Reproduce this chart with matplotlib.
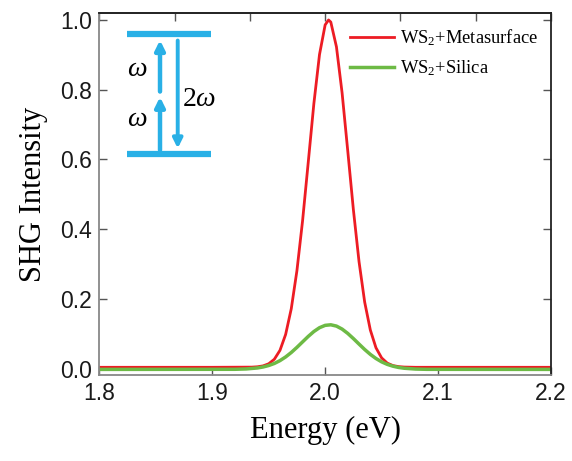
import numpy as np
import matplotlib
matplotlib.use("Agg")
import matplotlib.pyplot as plt

plt.rcParams['mathtext.fontset'] = 'custom'
plt.rcParams['mathtext.rm'] = 'Liberation Serif'
plt.rcParams['mathtext.it'] = 'Liberation Serif:italic'

# values
energy_red = [1.80, 1.90, 1.935, 1.94, 1.945, 1.95, 1.955, 1.96, 1.965, 1.97, 1.975,
              1.98, 1.985, 1.99, 1.995, 2.0, 2.003, 2.005, 2.01, 2.015, 2.02, 2.025,
              2.03, 2.035, 2.04, 2.045, 2.05, 2.055, 2.06, 2.065, 2.07, 2.08, 2.20]
shg_metasurface = [0.004, 0.004, 0.0045, 0.0055, 0.0081, 0.0141, 0.0271, 0.0527, 0.0982,
                   0.172, 0.281, 0.424, 0.591, 0.760, 0.901, 0.986, 1.0, 0.994, 0.923,
                   0.791, 0.625, 0.456, 0.307, 0.191, 0.111, 0.060, 0.031, 0.016, 0.009,
                   0.006, 0.0047, 0.004, 0.004]

energy_green = [1.80, 1.92, 1.93, 1.94, 1.945, 1.95, 1.955, 1.96, 1.965, 1.97, 1.975,
                1.98, 1.985, 1.99, 1.995, 2.0, 2.005, 2.01, 2.015, 2.02, 2.025, 2.03,
                2.035, 2.04, 2.045, 2.05, 2.055, 2.06, 2.065, 2.07, 2.08, 2.09, 2.20]
shg_silica = [-0.002, -0.0017, -0.0007, 0.0021, 0.0049, 0.0091, 0.0150, 0.0232, 0.0337,
              0.0465, 0.0612, 0.0769, 0.0925, 0.1066, 0.1176, 0.1243, 0.1259, 0.1222,
              0.1136, 0.1012, 0.0864, 0.0706, 0.0551, 0.0411, 0.0292, 0.0196, 0.0124,
              0.0072, 0.0036, 0.0013, -0.001, -0.0018, -0.002]

x_ticks = [1.8, 1.9, 2.0, 2.1, 2.2]
y_ticks = [0.0, 0.2, 0.4, 0.6, 0.8, 1.0]

red = '#ED1C24'
green = '#6DBA45'
blue = '#29B0E6'

fig = plt.figure(figsize=(5.72, 4.61), dpi=100)
ax = fig.add_axes([0.1736, 0.1866, 0.7897, 0.7852])

ax.plot(energy_red, shg_metasurface, color=red, lw=2.0, label='WS$_2$+Metasurface')
ax.plot(energy_green, shg_silica, color=green, lw=2.5, label='WS$_2$+Silica')

ax.set_xlim(1.8, 2.2)
ax.set_ylim(-0.018, 1.02)
ax.set_xticks(x_ticks)
ax.set_yticks(y_ticks)
ax.set_xticklabels([f'{t:.1f}' for t in x_ticks], family='Liberation Sans', fontsize=16.5, color='#1a1a1a')
ax.set_yticklabels([f'{t:.1f}' for t in y_ticks], family='Liberation Sans', fontsize=16.5, color='#1a1a1a')
ax.tick_params(direction='in', length=6, width=1.0, color='#555555', right=True, pad=5)

top = ax.secondary_xaxis('top')
top.set_xticks(np.linspace(1.8, 2.2, 7))
top.tick_params(direction='in', length=6, width=1.0, color='#555555', labeltop=False)

for side in ['left', 'bottom']:
    ax.spines[side].set_color('#888888')
    ax.spines[side].set_linewidth(1.3)
for side in ['top', 'right']:
    ax.spines[side].set_color('#222222')
    ax.spines[side].set_linewidth(1.3)
top.spines['top'].set_color('#444444')
top.spines['top'].set_linewidth(1.3)

ax.set_xlabel('Energy (eV)', family='Liberation Serif', fontsize=22, labelpad=8)
ax.set_ylabel('SHG Intensity', family='Liberation Serif', fontsize=22, labelpad=9)

leg = ax.legend(loc='upper left', bbox_to_anchor=(0.555, 0.96), frameon=False,
                prop={'family': 'Liberation Serif', 'size': 13.3},
                handlelength=2.4, handletextpad=0.3, labelspacing=0.55,
                borderpad=0, borderaxespad=0)

# energy level diagram
tr = ax.transAxes
ax.plot([0.061, 0.247], [0.941, 0.941], color=blue, lw=4.5, transform=tr, solid_capstyle='butt')
ax.plot([0.061, 0.247], [0.611, 0.611], color=blue, lw=4.5, transform=tr, solid_capstyle='butt')
arrow = dict(arrowstyle='-|>', color=blue, lw=3.2, mutation_scale=14, shrinkA=0, shrinkB=0)
ax.annotate('', xy=(0.1344, 0.768), xytext=(0.1344, 0.621), xycoords=tr, arrowprops=arrow)
ax.annotate('', xy=(0.1344, 0.925), xytext=(0.1344, 0.783), xycoords=tr, arrowprops=arrow)
arrow_down = dict(arrowstyle='-|>', color=blue, lw=2.8, mutation_scale=14, shrinkA=0, shrinkB=0)
ax.annotate('', xy=(0.1736, 0.626), xytext=(0.1736, 0.924), xycoords=tr, arrowprops=arrow_down)
ax.text(0.083, 0.848, r'$\omega$', transform=tr, fontsize=20, ha='center', va='center')
ax.text(0.083, 0.710, r'$\omega$', transform=tr, fontsize=20, ha='center', va='center')
ax.text(0.222, 0.766, r'$2\omega$', transform=tr, fontsize=20, ha='center', va='center')

fig.savefig('out.png', dpi=100)
